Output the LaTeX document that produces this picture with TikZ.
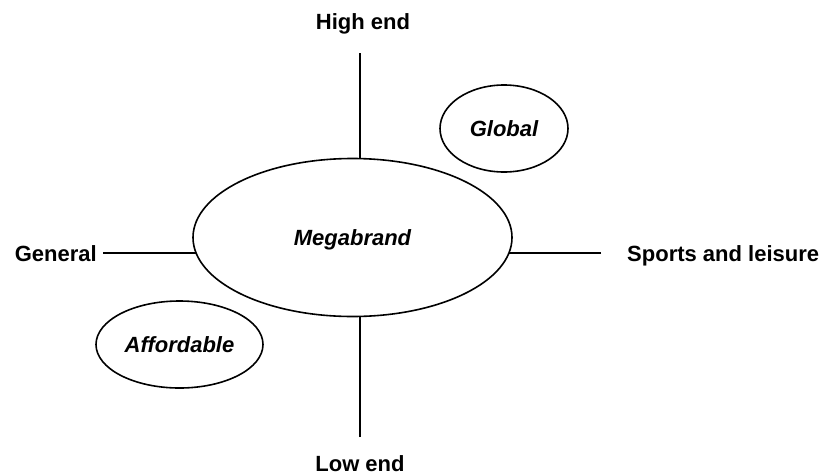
\documentclass[tikz,border=0pt]{standalone}
\usepackage{fontspec}
\setmainfont{Liberation Sans}
\usetikzlibrary{shapes.geometric,calc}
\begin{document}
\begin{tikzpicture}[x=1pt,y=-1pt,
  lbl/.style={inner sep=0pt,font=\fontsize{22}{26}\selectfont\bfseries},
  oval/.style={ellipse,draw,line width=1.6pt,inner sep=0pt,text height=15.75pt,text depth=0pt,
    font=\fontsize{22}{26}\selectfont\bfseries\itshape},
  axis/.style={line width=1.6pt}]
\useasboundingbox (0,0) rectangle (824,474);
\node[oval,minimum width=319pt,minimum height=158pt] (mega) at (352.5,237.5) {Megabrand};
\node[oval,minimum width=128pt,minimum height=87pt] (glob) at (504,128.5) {Global};
\node[oval,minimum width=167pt,minimum height=87pt] (aff) at (179.5,344.5) {Affordable};
\node[lbl,anchor=base] (high) at (363,29.5) {High end};
\node[lbl,anchor=base] (low) at (360,471) {Low end};
\node[lbl,anchor=base east] (gen) at (97,261.5) {General};
\node[lbl,anchor=base west] (sport) at (627,261.5) {Sports and leisure};
\coordinate (topend) at (360,53);
\coordinate (botend) at (360,437);
\coordinate (leftend) at (103,253);
\coordinate (rightend) at (601,253);
\coordinate (megaL) at ($(mega.center)+(-156.4,15.5)$);
\coordinate (megaR) at ($(mega.center)+(156.4,15.5)$);
\draw[axis] (topend) -- (topend |- mega.north);
\draw[axis] (botend) -- (botend |- mega.south);
\draw[axis] (leftend) -- (megaL);
\draw[axis] (rightend) -- (megaR);
\end{tikzpicture}
\end{document}
